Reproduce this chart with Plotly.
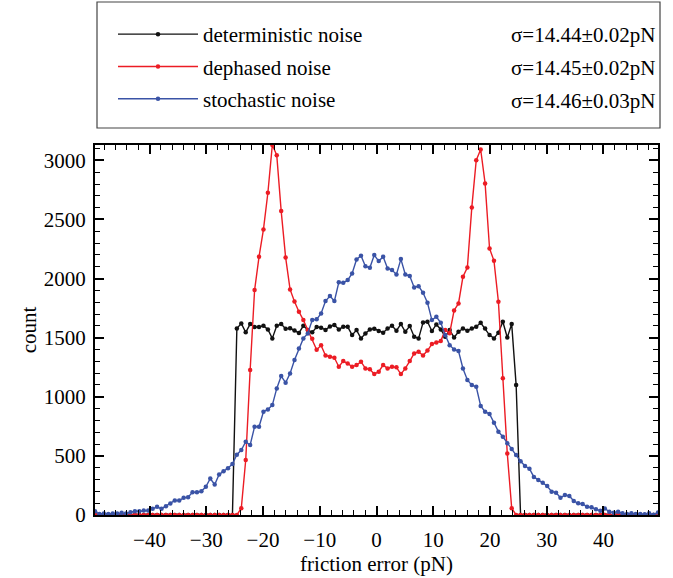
import numpy as np
import plotly.graph_objects as go

# ---- data -------------------------------------------------------------
n_bins = 128
x_min, x_max = -50.0, 50.0
bin_width = (x_max - x_min) / n_bins
bin_centers = [x_min + bin_width * (i + 0.5) for i in range(n_bins)]

deterministic = [0] * 32 + [
    1578, 1621, 1545, 1615, 1590, 1590, 1600, 1570, 1494, 1600,
    1615, 1575, 1580, 1560, 1540, 1600, 1565, 1545, 1590, 1585,
    1566, 1595, 1608, 1570, 1592, 1592, 1522, 1564, 1494, 1536,
    1570, 1575, 1556, 1542, 1578, 1601, 1559, 1615, 1550, 1598,
    1508, 1494, 1628, 1635, 1556, 1612, 1570, 1508, 1564, 1502,
    1550, 1578, 1559, 1578, 1593, 1626, 1578, 1522, 1494, 1542,
    1635, 1502, 1615, 1099] + [0] * 32

dephased = [0] * 33 + [
    57, 465, 1226, 1903, 2184, 2416, 2726, 3130, 3044, 2571,
    2179, 1908, 1806, 1720, 1650, 1565, 1490, 1397, 1435, 1350,
    1339, 1330, 1254, 1302, 1282, 1254, 1268, 1297, 1240, 1232,
    1192, 1212, 1268, 1240, 1254, 1249, 1192, 1240, 1302, 1367,
    1381, 1349, 1391, 1446, 1460, 1471, 1566, 1538, 1730, 1790,
    2015, 2094, 2602, 3002, 3092, 2805, 2255, 2150, 1804, 1156,
    521, 57] + [0] * 33

stochastic = [
    32, 8, 13, 8, 13, 13, 18, 13, 24, 32,
    32, 38, 38, 52, 69, 52, 74, 97, 123, 123,
    145, 151, 193, 193, 201, 238, 309, 258, 342, 370,
    396, 432, 510, 550, 620, 592, 747, 747, 874, 893,
    930, 1071, 1175, 1119, 1198, 1311, 1409, 1494, 1536, 1649,
    1655, 1705, 1810, 1852, 1810, 1968, 1964, 1987, 2044, 2162,
    2193, 2105, 2091, 2199, 2148, 2184, 2086, 2072, 2035, 2165,
    2035, 2021, 1925, 1936, 1880, 1795, 1649, 1677, 1626, 1522,
    1437, 1401, 1387, 1240, 1142, 1099, 1085, 922, 874, 854,
    781, 705, 662, 606, 558, 507, 455, 414, 392, 322,
    296, 273, 245, 197, 189, 146, 169, 161, 118, 99,
    93, 70, 65, 48, 37, 56, 28, 20, 28, 14,
    8, 14, 8, 8, 6, 14, 3, 22]

series_names = ["deterministic noise", "dephased noise", "stochastic noise"]
sigma_labels = ["σ=14.44±0.02pN", "σ=14.45±0.02pN", "σ=14.46±0.03pN"]
series_colors = ["#111111", "#ec1c24", "#3a53a6"]
x_ticks = [-40, -30, -20, -10, 0, 10, 20, 30, 40]
y_ticks = [0, 500, 1000, 1500, 2000, 2500, 3000]
y_top = max(dephased)

# ---- figure -----------------------------------------------------------
FONT = "Liberation Serif"
FS = 21
fig = go.Figure()
for name, ys, col, grp in zip(series_names, [deterministic, dephased, stochastic],
                              series_colors, ["a", "b", "c"]):
    fig.add_trace(go.Scatter(
        x=bin_centers, y=ys, name=name, mode="lines+markers",
        line=dict(color=col, width=1.4),
        marker=dict(color=col, size=4.5),
        legendgroup=grp, cliponaxis=True))

W, H = 673, 578
L, R, T, B = 95, 15, 145, 63
pw, ph = W - L - R, H - T - B

def px_x(p):
    return (p - L) / pw

def px_y(p):
    return (H - B - p) / ph

axis_common = dict(
    showline=True, linecolor="black", linewidth=2, mirror="allticks",
    ticks="inside", tickcolor="black", tickwidth=1.5, ticklen=9,
    showgrid=False, zeroline=False, automargin=False,
    tickfont=dict(family=FONT, size=FS, color="black"),
)

fig.update_layout(
    width=W, height=H,
    margin=dict(l=L, r=R, t=T, b=B, autoexpand=False),
    paper_bgcolor="white", plot_bgcolor="white",
    font=dict(family=FONT, color="black", size=FS),
    xaxis=dict(**axis_common, range=[bin_centers[0], bin_centers[-1]],
               tickmode="array", tickvals=x_ticks,
               ticktext=[("−" + str(-t)) if t < 0 else str(t) for t in x_ticks],
               ticklabelstandoff=5,
               minor=dict(dtick=2, tick0=0, ticks="inside", ticklen=5,
                          tickcolor="black", tickwidth=1.2),
               title=dict(text="friction error (pN)",
                          font=dict(family=FONT, size=FS), standoff=2)),
    yaxis=dict(**axis_common, range=[0, y_top],
               tickmode="array", tickvals=y_ticks,
               ticklabelstandoff=3,
               minor=dict(dtick=100, tick0=0, ticks="inside", ticklen=5,
                          tickcolor="black", tickwidth=1.2),
               title=dict(text="count", font=dict(family=FONT, size=FS),
                          standoff=1)),
    showlegend=True,
    legend=dict(x=px_x(113), y=px_y(14), xanchor="left", yanchor="top",
                bgcolor="rgba(0,0,0,0)", borderwidth=0,
                font=dict(family=FONT, size=FS, color="black"),
                tracegroupgap=2, itemwidth=80,
                traceorder="grouped"),
)

# legend frame
fig.add_shape(type="rect", xref="paper", yref="paper",
              x0=px_x(97), x1=px_x(660), y0=px_y(128), y1=px_y(2),
              line=dict(color="#444444", width=1.2), fillcolor="rgba(0,0,0,0)")

for lab, yp in zip(sigma_labels, [35, 68, 101]):
    fig.add_annotation(text=lab, xref="paper", yref="paper",
                       x=px_x(657), y=px_y(yp), xanchor="right", yanchor="middle",
                       showarrow=False,
                       font=dict(family=FONT, size=FS, color="black"))

fig.write_html("out.html")
